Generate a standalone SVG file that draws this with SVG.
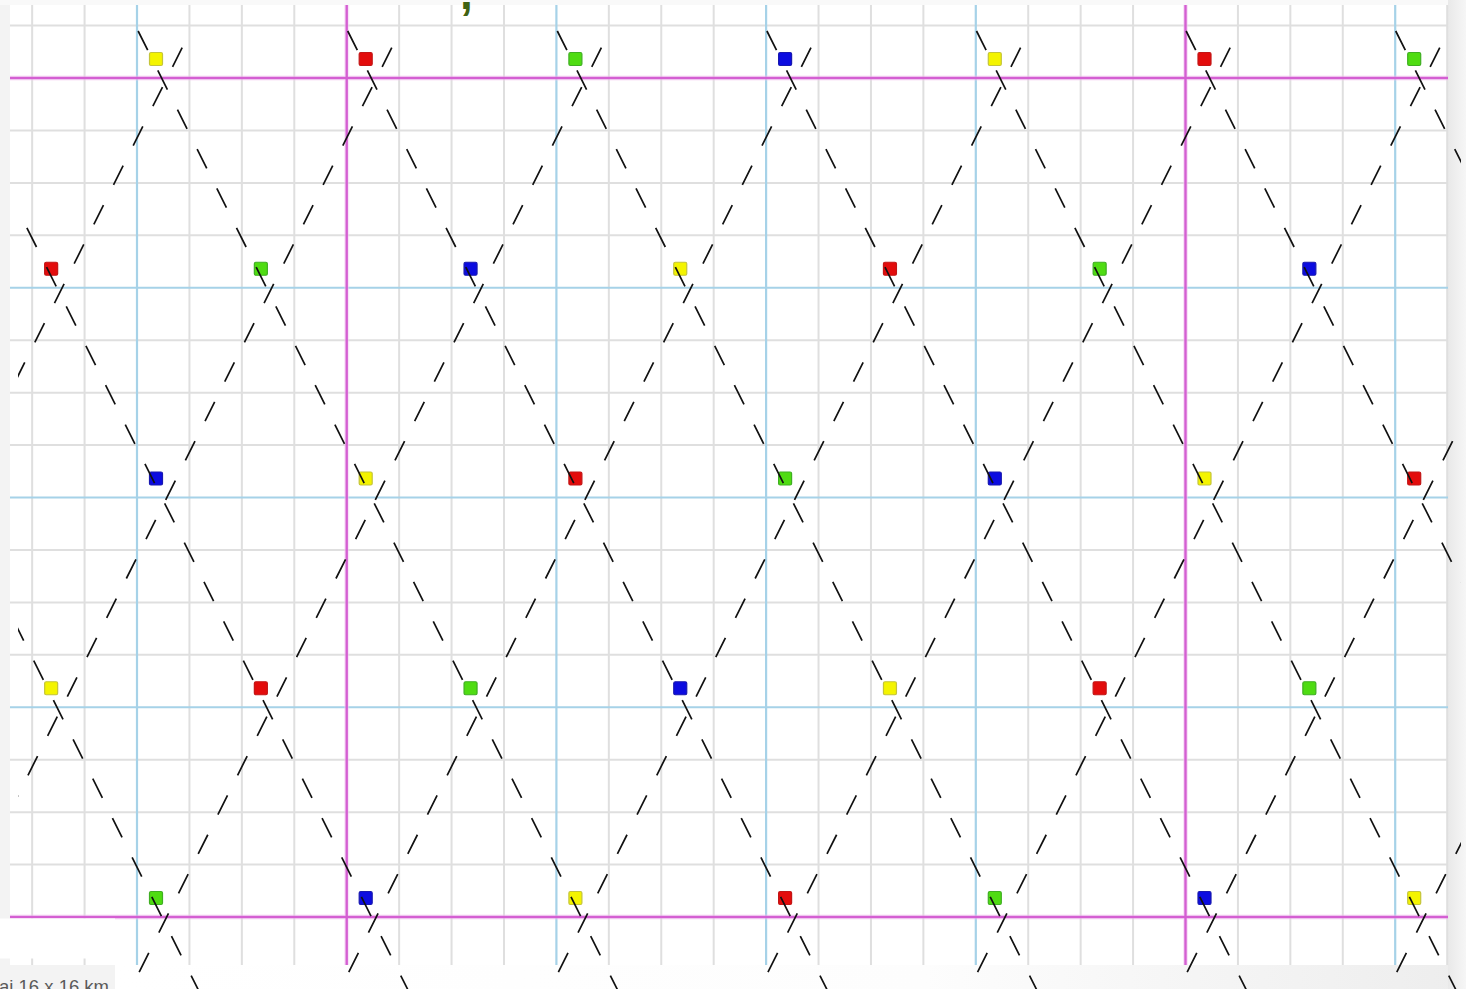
<svg xmlns="http://www.w3.org/2000/svg" width="1466" height="989" viewBox="0 0 1466 989">
<defs>
<style>
.minor{stroke:#dfdfdf;stroke-width:2;fill:none}
.blue{stroke:#a6d2e8;stroke-width:2.2;fill:none}
.mag{stroke:#d45fd2;stroke-width:2.4;fill:none}
.halo{stroke:#f4c8f2;stroke-width:5;fill:none}
.dash{stroke:#111;stroke-width:1.7;fill:none;stroke-dasharray:21.5 22.5}
.sq{stroke-width:1.2}
.Y{fill:#f4f400;stroke:#c4c43a}
.R{fill:#e30c0c;stroke:#c21616}
.G{fill:#4fdc12;stroke:#3fae22}
.B{fill:#0c0ce0;stroke:#1818b0}
</style>
<linearGradient id="rg" x1="0" y1="0" x2="1" y2="0">
<stop offset="0" stop-color="#e9e9e9"/>
<stop offset="1" stop-color="#f6f6f6"/>
</linearGradient>
<linearGradient id="bg" x1="0" y1="0" x2="1" y2="0">
<stop offset="0" stop-color="#ffffff"/>
<stop offset="0.6" stop-color="#fdfdfd"/>
<stop offset="1" stop-color="#ededed"/>
</linearGradient>
<clipPath id="clip"><rect x="18" y="28" width="1443" height="961"/></clipPath>
</defs>

<g id="background">
<rect x="0" y="0" width="1466" height="989" fill="#f3f3f3"/>
<rect x="0" y="0" width="1466" height="5" fill="#f9f9f9"/>
<rect x="115" y="965" width="1351" height="24" fill="url(#bg)"/>
<rect x="1448" y="0" width="18" height="989" fill="url(#rg)"/>
<rect x="10" y="5" width="1438" height="960" fill="#ffffff"/>
</g>

<g id="grid">
<path class="minor" d="M32.15 5V965M84.58 5V965M189.43 5V965M241.85 5V965M294.28 5V965M399.13 5V965M451.55 5V965M503.98 5V965M608.83 5V965M661.25 5V965M713.68 5V965M818.53 5V965M870.95 5V965M923.38 5V965M1028.23 5V965M1080.65 5V965M1133.08 5V965M1237.93 5V965M1290.35 5V965M1342.78 5V965M1447.2 5V965"/>
<path class="minor" d="M10 25.56H1448M10 130.44H1448M10 182.88H1448M10 235.31H1448M10 340.19H1448M10 392.63H1448M10 445.06H1448M10 549.94H1448M10 602.38H1448M10 654.81H1448M10 759.69H1448M10 812.13H1448M10 864.56H1448"/>
<path class="blue" d="M137 5V965M556.4 5V965M766.1 5V965M975.8 5V965M1395.2 5V965"/>
<path class="blue" d="M10 287.75H1448M10 497.5H1448M10 707.25H1448"/>
<path class="halo" opacity="0.5" d="M346.7 5V965M1185.5 5V965M10 78H1448M10 917H1448"/>
<path class="mag" d="M346.7 5V965M1185.5 5V965M10 78H1448M10 917H1448"/>
</g>

<rect id="legend-box" x="0" y="918.5" width="115" height="40" fill="#ffffff"/>

<g id="nodes">
<g id="n1-1"><rect class="sq Y" x="149.5" y="52.5" width="13" height="13" rx="1.5"/></g>
<g id="n1-2"><rect class="sq R" x="359.2" y="52.5" width="13" height="13" rx="1.5"/></g>
<g id="n1-3"><rect class="sq G" x="568.9" y="52.5" width="13" height="13" rx="1.5"/></g>
<g id="n1-4"><rect class="sq B" x="778.6" y="52.5" width="13" height="13" rx="1.5"/></g>
<g id="n1-5"><rect class="sq Y" x="988.3" y="52.5" width="13" height="13" rx="1.5"/></g>
<g id="n1-6"><rect class="sq R" x="1198" y="52.5" width="13" height="13" rx="1.5"/></g>
<g id="n1-7"><rect class="sq G" x="1407.7" y="52.5" width="13" height="13" rx="1.5"/></g>

<g id="n2-1"><rect class="sq R" x="44.65" y="262.25" width="13" height="13" rx="1.5"/></g>
<g id="n2-2"><rect class="sq G" x="254.35" y="262.25" width="13" height="13" rx="1.5"/></g>
<g id="n2-3"><rect class="sq B" x="464.05" y="262.25" width="13" height="13" rx="1.5"/></g>
<g id="n2-4"><rect class="sq Y" x="673.75" y="262.25" width="13" height="13" rx="1.5"/></g>
<g id="n2-5"><rect class="sq R" x="883.45" y="262.25" width="13" height="13" rx="1.5"/></g>
<g id="n2-6"><rect class="sq G" x="1093.15" y="262.25" width="13" height="13" rx="1.5"/></g>
<g id="n2-7"><rect class="sq B" x="1302.85" y="262.25" width="13" height="13" rx="1.5"/></g>

<g id="n3-1"><rect class="sq B" x="149.5" y="472" width="13" height="13" rx="1.5"/></g>
<g id="n3-2"><rect class="sq Y" x="359.2" y="472" width="13" height="13" rx="1.5"/></g>
<g id="n3-3"><rect class="sq R" x="568.9" y="472" width="13" height="13" rx="1.5"/></g>
<g id="n3-4"><rect class="sq G" x="778.6" y="472" width="13" height="13" rx="1.5"/></g>
<g id="n3-5"><rect class="sq B" x="988.3" y="472" width="13" height="13" rx="1.5"/></g>
<g id="n3-6"><rect class="sq Y" x="1198" y="472" width="13" height="13" rx="1.5"/></g>
<g id="n3-7"><rect class="sq R" x="1407.7" y="472" width="13" height="13" rx="1.5"/></g>

<g id="n4-1"><rect class="sq Y" x="44.65" y="681.75" width="13" height="13" rx="1.5"/></g>
<g id="n4-2"><rect class="sq R" x="254.35" y="681.75" width="13" height="13" rx="1.5"/></g>
<g id="n4-3"><rect class="sq G" x="464.05" y="681.75" width="13" height="13" rx="1.5"/></g>
<g id="n4-4"><rect class="sq B" x="673.75" y="681.75" width="13" height="13" rx="1.5"/></g>
<g id="n4-5"><rect class="sq Y" x="883.45" y="681.75" width="13" height="13" rx="1.5"/></g>
<g id="n4-6"><rect class="sq R" x="1093.15" y="681.75" width="13" height="13" rx="1.5"/></g>
<g id="n4-7"><rect class="sq G" x="1302.85" y="681.75" width="13" height="13" rx="1.5"/></g>

<g id="n5-1"><rect class="sq G" x="149.5" y="891.5" width="13" height="13" rx="1.5"/></g>
<g id="n5-2"><rect class="sq B" x="359.2" y="891.5" width="13" height="13" rx="1.5"/></g>
<g id="n5-3"><rect class="sq Y" x="568.9" y="891.5" width="13" height="13" rx="1.5"/></g>
<g id="n5-4"><rect class="sq R" x="778.6" y="891.5" width="13" height="13" rx="1.5"/></g>
<g id="n5-5"><rect class="sq G" x="988.3" y="891.5" width="13" height="13" rx="1.5"/></g>
<g id="n5-6"><rect class="sq B" x="1198" y="891.5" width="13" height="13" rx="1.5"/></g>
<g id="n5-7"><rect class="sq Y" x="1407.7" y="891.5" width="13" height="13" rx="1.5"/></g>
</g>

<g id="connectors" clip-path="url(#clip)">
<path class="dash" d="M-281.1 31L203.4 1000"/>
<path class="dash" d="M-71.5 31L413 1000"/>
<path class="dash" d="M138.1 31L622.6 1000"/>
<path class="dash" d="M347.7 31L832.2 1000"/>
<path class="dash" d="M557.3 31L1041.8 1000"/>
<path class="dash" d="M766.9 31L1251.4 1000"/>
<path class="dash" d="M976.5 31L1461 1000"/>
<path class="dash" d="M1186.1 31L1670.6 1000"/>
<path class="dash" d="M1395.7 31L1880.2 1000"/>

<path class="dash" d="M201.85 8.3L-294 1000"/>
<path class="dash" d="M411.45 8.3L-84.4 1000"/>
<path class="dash" d="M621.05 8.3L125.2 1000"/>
<path class="dash" d="M830.65 8.3L334.8 1000"/>
<path class="dash" d="M1040.25 8.3L544.4 1000"/>
<path class="dash" d="M1249.85 8.3L754 1000"/>
<path class="dash" d="M1459.45 8.3L963.6 1000"/>
<path class="dash" d="M1669.05 8.3L1173.2 1000"/>
<path class="dash" d="M1878.65 8.3L1382.8 1000"/>
</g>

<text x="460" y="9" font-family="Liberation Sans, Arial, sans-serif" font-size="46" font-weight="bold" fill="#3f6212">,</text>
<text x="-1" y="993" font-family="Liberation Sans, Arial, sans-serif" font-size="18.5" fill="#5a5a5a">ai 16 x 16 km</text>
</svg>
